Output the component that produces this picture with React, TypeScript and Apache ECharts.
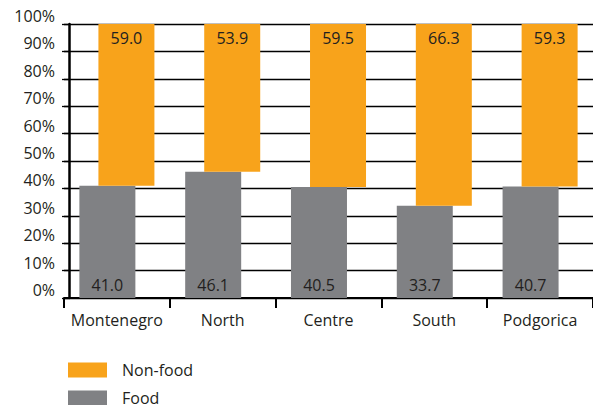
import React, { useEffect, useRef } from "react";
import * as echarts from "echarts";

const categories = ["Montenegro", "North", "Centre", "South", "Podgorica"];
const foodValues = [41.0, 46.1, 40.5, 33.7, 40.7];
const nonFoodValues = [59.0, 53.9, 59.5, 66.3, 59.3];
const seriesNames = ["Non-food", "Food"];
const yMin = 0;
const yMax = 100;
const yStep = 10;

const FONT = "Open Sans";
const TEXT = "#231f20";
const ORANGE = "#f8a31b";
const GRAY = "#808184";

export default function App() {
  const ref = useRef<HTMLDivElement>(null);
  useEffect(() => {
    if (!ref.current) return;
    const chart = echarts.init(ref.current, null, { renderer: "svg" });
    const fmt = (p: any) => Number(p.value).toFixed(1);
    chart.setOption({
      animation: false,
      textStyle: { fontFamily: FONT, color: TEXT },
      grid: { left: 64, top: 24, width: 542, height: 274 },
      legend: {
        data: seriesNames,
        orient: "vertical",
        left: 68,
        top: 362,
        height: 80,
        padding: 0,
        itemWidth: 39,
        itemHeight: 15,
        itemGap: 12,
        icon: "rect",
        textStyle: {
          fontFamily: FONT,
          fontSize: 16,
          lineHeight: 15,
          color: TEXT,
          padding: [0, 0, 0, 10],
        },
      },
      xAxis: {
        type: "category",
        data: categories,
        axisLine: { lineStyle: { color: "#000", width: 2 } },
        axisTick: { show: true, length: 10, lineStyle: { color: "#000", width: 2 } },
        axisLabel: { interval: 0, margin: 14, fontSize: 16, color: TEXT, fontFamily: FONT },
      },
      yAxis: {
        type: "value",
        min: yMin,
        max: yMax,
        interval: yStep,
        offset: -5,
        axisLine: { show: true, lineStyle: { color: "#000", width: 2.5 } },
        axisTick: { show: true, length: 7, lineStyle: { color: "#000", width: 1.3 } },
        splitLine: { show: true, lineStyle: { color: "#000", width: 1.3 } },
        axisLabel: {
          formatter: "{value}%",
          fontSize: 16,
          color: TEXT,
          fontFamily: FONT,
          margin: 14,
          verticalAlign: "bottom",
          lineHeight: 16,
        },
      },
      series: [
        {
          name: "Food",
          type: "bar",
          stack: "food",
          data: foodValues,
          barWidth: 56,
          barGap: "-66%",
          itemStyle: { color: GRAY },
          label: {
            show: true,
            position: "insideBottom",
            distance: 5,
            formatter: fmt,
            fontSize: 16,
            color: TEXT,
            fontFamily: FONT,
          },
        },
        {
          name: "base",
          type: "bar",
          stack: "nonfood",
          data: foodValues,
          barWidth: 56,
          silent: true,
          itemStyle: { color: "rgba(0,0,0,0)" },
          label: { show: false },
        },
        {
          name: "Non-food",
          type: "bar",
          stack: "nonfood",
          data: nonFoodValues,
          barWidth: 56,
          itemStyle: { color: ORANGE },
          label: {
            show: true,
            position: "insideTop",
            distance: 6,
            formatter: fmt,
            fontSize: 16,
            color: TEXT,
            fontFamily: FONT,
          },
        },
      ],
    });
    return () => chart.dispose();
  }, []);
  return (
    <div
      ref={ref}
      style={{ position: "fixed", left: 0, top: 0, width: 593, height: 405, background: "#fff" }}
    />
  );
}
